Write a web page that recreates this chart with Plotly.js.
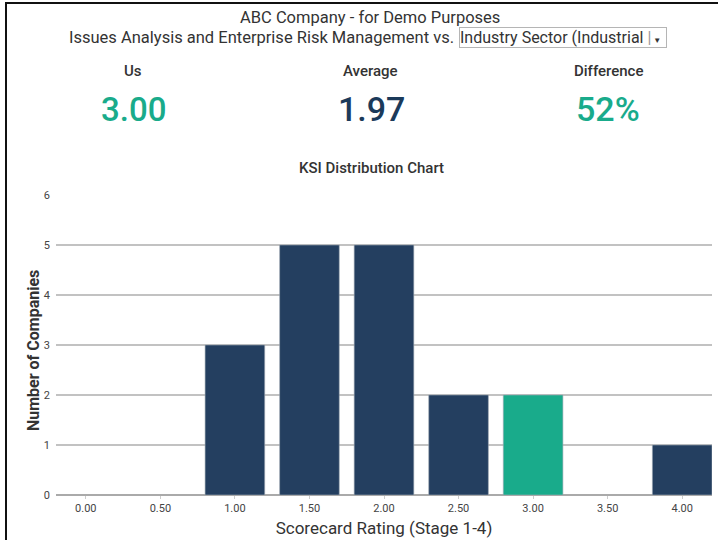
<!DOCTYPE html>
<html>
<head>
<meta charset="utf-8">
<script src="https://cdn.plot.ly/plotly-3.0.1.min.js"></script>
<style>
  html, body { margin: 0; padding: 0; background: #fff; }
  #wrap { position: relative; width: 726px; height: 540px; overflow: hidden; }
  #chart { position: absolute; left: 0; top: 0; width: 726px; height: 540px; }
  #frame { position: absolute; left: 5px; top: 2px; width: 711px; height: 560px;
           border-top: 2px solid #111; border-left: 2px solid #111; pointer-events: none; }
</style>
</head>
<body>
<div id="wrap">
  <div id="chart"></div>
  <div id="frame"></div>
</div>
<script>
// Scorecard distribution across the peer group
const ratings = [0.00, 0.50, 1.00, 1.50, 2.00, 2.50, 3.00, 3.50, 4.00];
const counts  = [0, 0, 3, 5, 5, 2, 2, 0, 1];
const tickLabels = ['0.00', '0.50', '1.00', '1.50', '2.00', '2.50', '3.00', '3.50', '4.00'];

// Headline figures
const ourScore = 3.00;
const avgScore = 1.97;
const companyTitle = 'ABC Company - for Demo Purposes';
const subtitle = 'Issues Analysis and Enterprise Risk Management vs.';
const peerGroup = 'Industry Sector (Industrial';
const xTitle = 'Scorecard Rating (Stage 1-4)';
const yTitle = 'Number of Companies';

const TEAL = '#19ab8b';
const NAVY = '#243f60';
const NUM_NAVY = '#1b3a5a';
const FONT = 'Roboto, "Noto Sans", sans-serif';

const W = 726, H = 540;
const M = { l: 56, r: 14, t: 195, b: 45 };
const plotW = W - M.l - M.r, plotH = H - M.t - M.b;

// page pixel -> paper coordinates (for header annotations)
const px = x => (x - M.l) / plotW;
const py = y => (H - M.b - y) / plotH;

const diffPct = Math.round((ourScore - avgScore) / avgScore * 100);

const barColors = ratings.map(r => Math.abs(r - ourScore) < 1e-9 ? TEAL : NAVY);
const lineWidths = counts.map(c => c > 0 ? 1 : 0);

const trace = {
  type: 'bar',
  x: ratings,
  y: counts,
  width: 0.4,
  marker: {
    color: barColors,
    line: { color: 'rgba(160,170,180,0.6)', width: lineWidths }
  },
  hoverinfo: 'x+y'
};

function label(text, x, y, size, color, weight, xanchor) {
  return {
    xref: 'paper', yref: 'paper', x: px(x), y: py(y),
    xanchor: xanchor || 'center', yanchor: 'middle',
    text: text, showarrow: false,
    font: { family: FONT, size: size, color: color, weight: weight || 400 }
  };
}

const yTitleLabel = label(yTitle, 33, 351, 16, '#333', 700);
yTitleLabel.textangle = -90;

const annotations = [
  label(companyTitle, 370, 17, 16.5, '#333', 400),
  label(subtitle, 456, 38, 16.5, '#333', 400, 'right'),
  {
    xref: 'paper', yref: 'paper', x: px(459), y: py(37.5),
    xanchor: 'left', yanchor: 'middle', showarrow: false,
    text: peerGroup + '<span style="color:#999"> |</span><span style="font-size:8px"> ▼</span>',
    align: 'left', width: 206, height: 19,
    bordercolor: '#b5b5b5', borderwidth: 1, borderpad: 0, bgcolor: '#fff',
    font: { family: FONT, size: 16, color: '#333' }
  },
  label('Us', 133, 71, 15, '#333', 500),
  label('Average', 370, 71, 15, '#333', 500),
  label('Difference', 608, 71, 15, '#333', 500),
  label(ourScore.toFixed(2), 133, 109, 33, TEAL, 500),
  label(avgScore.toFixed(2), 371, 109, 34, NUM_NAVY, 500),
  label(diffPct + '%', 608, 109, 34, TEAL, 500),
  label('KSI Distribution Chart', 371, 168, 15, '#333', 500),
  yTitleLabel
];

const layout = {
  width: W, height: H,
  margin: M,
  paper_bgcolor: '#fff', plot_bgcolor: '#fff',
  font: { family: FONT, color: '#444' },
  showlegend: false,
  bargap: 0,
  xaxis: {
    range: [-0.2, 4.2],
    tickvals: ratings, ticktext: tickLabels,
    ticks: 'outside', ticklen: 3, tickcolor: '#ccc',
    tickfont: { size: 11, color: '#444' },
    showgrid: false, zeroline: false, showline: false,
    fixedrange: true,
    title: { text: xTitle, standoff: 7,
             font: { family: FONT, size: 17, color: '#333' } },
    automargin: false
  },
  yaxis: {
    range: [0, 6], dtick: 1,
    tickfont: { size: 11, color: '#444' },
    ticklabelstandoff: 5,
    gridcolor: '#c2c2c2', gridwidth: 1.5,
    zeroline: true, zerolinecolor: '#aaa', zerolinewidth: 2,
    showline: false, fixedrange: true,
    automargin: false
  },
  annotations: annotations
};

Plotly.newPlot('chart', [trace], layout, { displayModeBar: false, staticPlot: true });
</script>
</body>
</html>
